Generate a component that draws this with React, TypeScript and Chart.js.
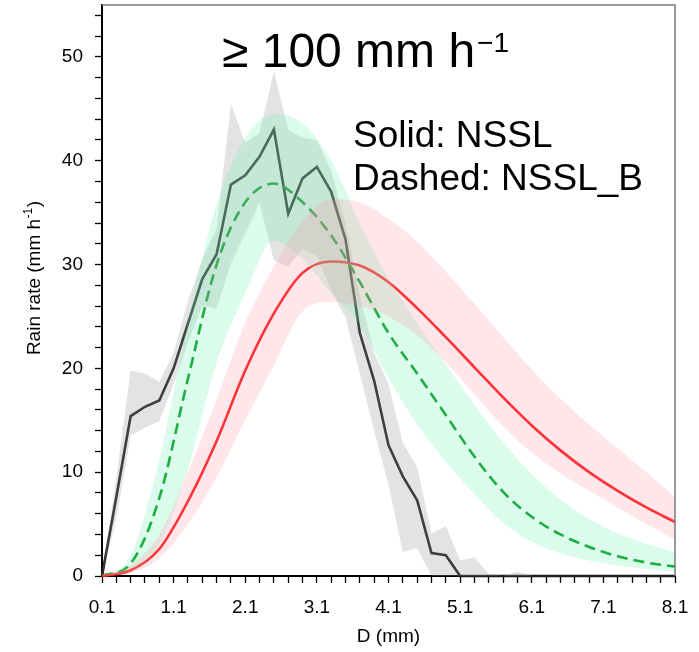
import React, { useEffect, useRef } from 'react';
import { Chart, registerables } from 'chart.js';

Chart.register(...registerables);

// ---------- data ----------
const D_OBS = [0.1, 0.3, 0.5, 0.7, 0.9, 1.1, 1.3, 1.5, 1.7, 1.9, 2.1, 2.3, 2.5, 2.7, 2.9, 3.1, 3.3, 3.5, 3.7, 3.9, 4.1, 4.3, 4.5, 4.7, 4.9, 5.1, 5.3, 5.5, 5.7, 5.9, 6.1, 6.3, 6.5, 6.7, 6.9, 7.1, 7.3, 7.5, 7.7, 7.9, 8.1];
const OBS_MEAN = [0, 7.6, 15.4, 16.3, 16.9, 20.0, 24.3, 28.6, 31.0, 37.7, 38.6, 40.4, 43.0, 34.9, 38.3, 39.4, 37.0, 32.4, 23.4, 18.8, 12.6, 9.6, 7.3, 2.2, 2.0, 0, 0, 0, 0, 0, 0, 0, 0, 0, 0, 0, 0, 0, 0, 0, 0];
const OBS_MAX = [0, 9.5, 19.8, 19.5, 18.7, 21.5, 26.5, 30.5, 33.5, 45.5, 41.7, 42.7, 48.6, 43.0, 42.2, 42.0, 39.0, 34.0, 27.0, 21.5, 18.5, 12.8, 10.5, 4.1, 4.8, 1.5, 1.8, 0.2, 0, 0.4, 0, 0, 0, 0, 0, 0, 0, 0, 0, 0, 0];
const OBS_MIN = [0, 5.5, 13.5, 14.3, 14.9, 18.5, 22.5, 26.0, 25.8, 30.1, 33.0, 35.9, 30.4, 29.8, 31.5, 30.8, 27.5, 24.9, 19.5, 14.0, 8.8, 2.3, 2.7, 0, 0, 0, 0, 0, 0, 0, 0, 0, 0, 0, 0, 0, 0, 0, 0, 0, 0];

const D_MODEL = [0.1, 0.5, 0.9, 1.3, 1.7, 2.1, 2.5, 2.9, 3.3, 3.7, 4.1, 4.5, 4.9, 5.3, 5.7, 6.1, 6.5, 6.9, 7.3, 7.7, 8.1];
const NSSL = [0, 0.55, 2.6, 7.2, 13.0, 19.8, 25.3, 29.2, 30.3, 29.9, 28.3, 25.8, 23.0, 20.1, 17.2, 14.5, 12.1, 10.0, 8.2, 6.6, 5.2];
const NSSL_HI = [0, 1.0, 4.0, 10.0, 17.0, 24.4, 29.8, 34.2, 36.3, 36.0, 34.4, 32.2, 29.3, 26.2, 23.0, 19.9, 17.1, 14.6, 12.3, 10.0, 7.6];
const NSSL_LO = [0, 0.3, 1.7, 5.0, 9.5, 15.0, 20.3, 25.5, 26.4, 26.0, 25.0, 23.2, 20.6, 17.5, 14.4, 11.9, 9.9, 8.2, 6.6, 5.0, 3.5];
const NSSLB = [0, 1.2, 7.5, 19.0, 30.0, 36.0, 37.8, 36.0, 32.8, 28.3, 23.4, 19.5, 15.5, 11.5, 8.1, 5.7, 4.0, 2.8, 1.9, 1.3, 0.9];
const NSSLB_HI = [0, 2.0, 11.2, 24.5, 35.8, 42.2, 44.5, 43.6, 40.0, 34.0, 28.7, 24.4, 20.4, 16.5, 12.9, 9.8, 7.4, 5.5, 4.1, 3.1, 2.3];
const NSSLB_LO = [0, 0.5, 3.0, 10.3, 20.6, 27.2, 32.3, 30.5, 27.2, 24.2, 19.1, 14.6, 11.0, 7.9, 5.1, 3.3, 2.2, 1.5, 1.0, 0.7, 0.4];

const X_TICKS = [0.1, 0.3, 0.5, 0.7, 0.9, 1.1, 1.3, 1.5, 1.7, 1.9, 2.1, 2.3, 2.5, 2.7, 2.9, 3.1, 3.3, 3.5, 3.7, 3.9, 4.1, 4.3, 4.5, 4.7, 4.9, 5.1, 5.3, 5.5, 5.7, 5.9, 6.1, 6.3, 6.5, 6.7, 6.9, 7.1, 7.3, 7.5, 7.7, 7.9, 8.1];
const X_LABELS = ['0.1', '1.1', '2.1', '3.1', '4.1', '5.1', '6.1', '7.1', '8.1'];
const Y_TICKS = [0, 2, 4, 6, 8, 10, 12, 14, 16, 18, 20, 22, 24, 26, 28, 30, 32, 34, 36, 38, 40, 42, 44, 46, 48, 50, 52, 54];
const Y_LABELS = ['0', '10', '20', '30', '40', '50'];

const TITLE = '≥ 100 mm h';
const TITLE_SUP = '−1';
const NOTE1 = 'Solid: NSSL';
const NOTE2 = 'Dashed: NSSL_B';
const X_TITLE = 'D (mm)';
const Y_TITLE = 'Rain rate (mm h';
const Y_TITLE_SUP = '-1';
const Y_TITLE_END = ')';

const FONT = '"Liberation Sans", Arial, Helvetica, sans-serif';

const pts = (xs: number[], ys: number[]) => xs.map((x, i) => ({ x, y: ys[i] }));

const overlayPlugin = {
  id: 'overlayText',
  afterDraw(chart: any) {
    const { ctx, chartArea: a } = chart;
    ctx.save();
    // top and right frame
    ctx.strokeStyle = '#7a7a7a';
    ctx.lineWidth = 1.5;
    ctx.beginPath();
    ctx.moveTo(a.left, a.top);
    ctx.lineTo(a.right, a.top);
    ctx.lineTo(a.right, a.bottom);
    ctx.stroke();

    ctx.fillStyle = '#000';
    ctx.textBaseline = 'alphabetic';
    ctx.textAlign = 'left';
    // title
    ctx.font = `48px ${FONT}`;
    ctx.fillText(TITLE, 222, 67);
    const tw = ctx.measureText(TITLE).width;
    ctx.font = `28px ${FONT}`;
    ctx.fillText(TITLE_SUP, 222 + tw + 2, 52);
    // notes
    ctx.font = `37px ${FONT}`;
    ctx.fillText(NOTE1, 353, 147);
    ctx.fillText(NOTE2, 353, 190);

    // x title
    ctx.font = `19px ${FONT}`;
    ctx.textAlign = 'center';
    ctx.textBaseline = 'middle';
    ctx.fillText(X_TITLE, (a.left + a.right) / 2, 637);

    // y title (rotated)
    ctx.translate(33, 278);
    ctx.rotate(-Math.PI / 2);
    ctx.textAlign = 'left';
    ctx.textBaseline = 'alphabetic';
    ctx.font = `19px ${FONT}`;
    const w1 = ctx.measureText(Y_TITLE).width;
    const w3 = ctx.measureText(Y_TITLE_END).width;
    ctx.font = `12px ${FONT}`;
    const w2 = ctx.measureText(Y_TITLE_SUP).width;
    const total = w1 + w2 + w3 + 1;
    const x0 = -total / 2;
    ctx.font = `19px ${FONT}`;
    ctx.fillText(Y_TITLE, x0, 7);
    ctx.font = `12px ${FONT}`;
    ctx.fillText(Y_TITLE_SUP, x0 + w1 + 0.5, -1);
    ctx.font = `19px ${FONT}`;
    ctx.fillText(Y_TITLE_END, x0 + w1 + w2 + 1, 7);
    ctx.restore();
  },
};

export default function App() {
  const ref = useRef<HTMLCanvasElement | null>(null);

  useEffect(() => {
    document.body.style.margin = '0';
    const canvas = ref.current;
    if (!canvas) return;
    Chart.defaults.font.family = FONT;

    const band = (hi: number[], lo: number[], xs: number[], color: string, order: number, mono: boolean) => [
      {
        data: pts(xs, hi),
        borderColor: 'rgba(0,0,0,0)',
        borderWidth: 1,
        pointRadius: 0,
        fill: false,
        order,
        cubicInterpolationMode: mono ? 'monotone' : 'default',
        tension: 0,
      },
      {
        data: pts(xs, lo),
        borderColor: 'rgba(0,0,0,0)',
        borderWidth: 1,
        pointRadius: 0,
        fill: '-1',
        backgroundColor: color,
        order,
        cubicInterpolationMode: mono ? 'monotone' : 'default',
        tension: 0,
      },
    ];

    const chart = new Chart(canvas, {
      type: 'line',
      data: {
        datasets: [
          ...band(OBS_MAX, OBS_MIN, D_OBS, 'rgba(150,150,150,0.27)', 3, false),
          ...band(NSSLB_HI, NSSLB_LO, D_MODEL, 'rgba(110,240,180,0.25)', 2, true),
          ...band(NSSL_HI, NSSL_LO, D_MODEL, 'rgba(255,140,160,0.22)', 1, true),
          {
            data: pts(D_OBS, OBS_MEAN),
            borderColor: '#1e1e1e',
            borderWidth: 2.6,
            pointRadius: 0,
            fill: false,
            tension: 0,
            order: 10,
            clip: 4,
          },
          {
            data: pts(D_MODEL, NSSLB),
            borderColor: '#009a18',
            borderWidth: 2.6,
            borderDash: [11, 6],
            pointRadius: 0,
            fill: false,
            cubicInterpolationMode: 'monotone',
            order: 9,
            clip: 4,
          },
          {
            data: pts(D_MODEL, NSSL),
            borderColor: '#ff1a1a',
            borderWidth: 2.6,
            pointRadius: 0,
            fill: false,
            cubicInterpolationMode: 'monotone',
            order: 8,
            clip: 4,
          },
        ] as any,
      },
      options: {
        animation: false,
        responsive: false,
        devicePixelRatio: 1,
        layout: { padding: { top: 5, right: 24, left: 0, bottom: 0 } },
        plugins: {
          legend: { display: false },
          tooltip: { enabled: false },
          title: { display: false },
        },
        scales: {
          x: {
            type: 'linear',
            min: 0.1,
            max: 8.1,
            afterBuildTicks: (s: any) => {
              s.ticks = X_TICKS.map((v) => ({ value: v }));
            },
            afterFit: (s: any) => {
              s.height = 76;
              s.paddingLeft = 0;
              s.paddingRight = 0;
            },
            ticks: {
              autoSkip: false,
              maxRotation: 0,
              padding: 13,
              color: '#000',
              font: { size: 19, family: FONT },
              callback: (v: any) => {
                const t = Number(v).toFixed(1);
                return X_LABELS.includes(t) ? t : '';
              },
            },
            grid: { drawOnChartArea: false, drawTicks: true, tickLength: 7, color: '#000', tickWidth: 1.3 },
            border: { display: true, color: '#000', width: 2 },
          },
          y: {
            type: 'linear',
            min: 0,
            max: 55,
            afterBuildTicks: (s: any) => {
              s.ticks = Y_TICKS.map((v) => ({ value: v }));
            },
            afterFit: (s: any) => {
              s.width = 102;
              s.paddingTop = 0;
              s.paddingBottom = 0;
            },
            ticks: {
              autoSkip: false,
              padding: 12,
              color: '#000',
              font: { size: 19, family: FONT },
              callback: (v: any) => {
                const t = String(Math.round(Number(v)));
                return Y_LABELS.includes(t) ? t : '';
              },
            },
            grid: { drawOnChartArea: false, drawTicks: true, tickLength: 7, color: '#000', tickWidth: 1.3 },
            border: { display: true, color: '#000', width: 2 },
          },
        },
      } as any,
      plugins: [overlayPlugin],
    });

    return () => chart.destroy();
  }, []);

  return (
    <div style={{ width: 699, height: 652, position: 'relative', background: '#fff' }}>
      <canvas ref={ref} width={699} height={652} style={{ display: 'block' }} />
    </div>
  );
}
